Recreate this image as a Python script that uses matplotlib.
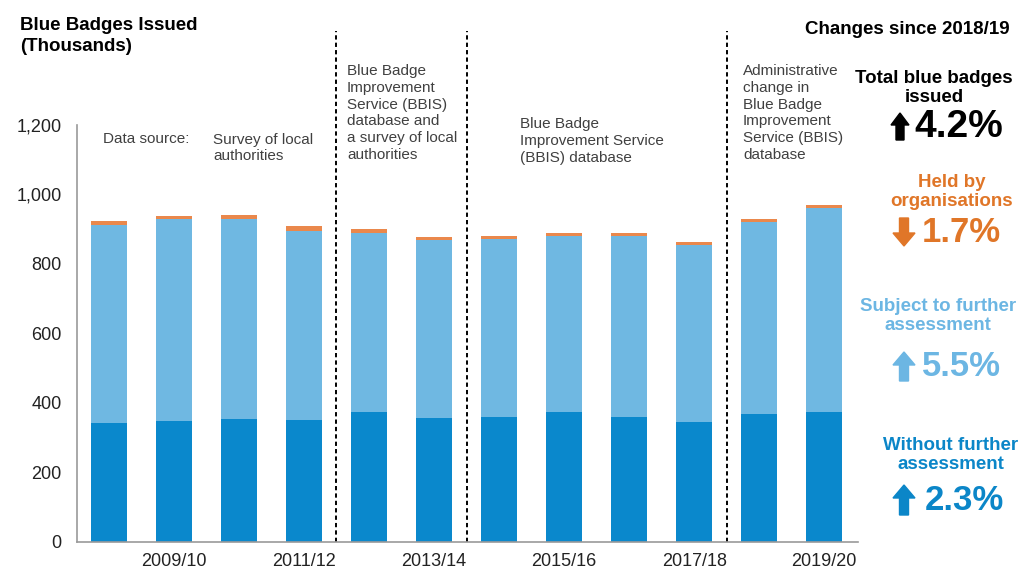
import matplotlib
matplotlib.use("Agg")
import matplotlib.pyplot as plt
import numpy as np
from matplotlib.patches import Polygon

plt.rcParams["font.family"] = ["Liberation Sans", "DejaVu Sans"]

# --- data (thousands of badges issued) ---
years = ["2008/09", "2009/10", "2010/11", "2011/12", "2012/13", "2013/14",
         "2014/15", "2015/16", "2016/17", "2017/18", "2018/19", "2019/20"]
without_further = [341, 347, 352, 350, 374, 357, 360, 373, 358, 344, 366, 374]
subject_further = [572, 581, 577, 546, 516, 511, 512, 506, 521, 509, 555, 586]
held_by_orgs = [9, 11, 11, 13, 10, 10, 9, 10, 10, 10, 9, 9]
breaks = [3.5, 5.5, 9.5]  # data source changes, between bars

DARK = "#0a88cc"
LIGHT = "#6fb8e2"
ORANGE = "#ea884c"
TXT_ORANGE = "#e07628"
TXT_LIGHT = "#6cb6e3"
TXT_DARK = "#0b86c8"
GREY = "#404040"

W, H = 1022, 572
fig = plt.figure(figsize=(W / 100, H / 100), dpi=100)
ax = fig.add_axes([77 / W, 1 - 541.5 / H, (858 - 77) / W, (541.5 - 125) / H])


def px(x, y):
    return x / W, 1 - y / H


x = np.arange(len(years))
w = 0.56
b1 = np.array(without_further)
b2 = b1 + np.array(subject_further)
ax.bar(x, without_further, w, color=DARK)
ax.bar(x, subject_further, w, bottom=b1, color=LIGHT)
ax.bar(x, held_by_orgs, w, bottom=b2, color=ORANGE)

ax.set_xlim(-0.49, 11.52)
ax.set_ylim(0, 1200)
ax.set_yticks(range(0, 1201, 200))
ax.set_yticklabels([f"{v:,}" for v in range(0, 1201, 200)])
ax.set_xticks(x[1::2])
ax.set_xticklabels(years[1::2])
ax.tick_params(axis="both", length=0, labelsize=13, colors="#222222")
ax.tick_params(axis="y", pad=11)
ax.tick_params(axis="x", pad=8)
for s in ["top", "right"]:
    ax.spines[s].set_visible(False)
for s in ["left", "bottom"]:
    ax.spines[s].set_color("#9a9a9a")
    ax.spines[s].set_linewidth(1.2)

for b in breaks:
    ax.plot([b, b], [0, 1470], color="black", lw=1.4,
            linestyle=(0, (2.2, 1.6)), clip_on=False)

# axis title
fig.text(*px(20, 36), "Blue Badges Issued\n(Thousands)", fontsize=13.5,
         fontweight="bold", va="center", ha="left", linespacing=1.3)

# data source notes
note = dict(fontsize=11, color=GREY, va="center", ha="left", linespacing=1.25)
fig.text(*px(103, 139), "Data source:", **note)
fig.text(*px(213, 148), "Survey of local\nauthorities", **note)
fig.text(*px(347, 113), "Blue Badge\nImprovement\nService (BBIS)\ndatabase and\n"
         "a survey of local\nauthorities", **note)
fig.text(*px(520, 141), "Blue Badge\nImprovement Service\n(BBIS) database", **note)
fig.text(*px(743, 113), "Administrative\nchange in\nBlue Badge\nImprovement\n"
         "Service (BBIS)\ndatabase", **note)

# right panel: changes since 2018/19
fig.text(*px(907, 30), "Changes since 2018/19", fontsize=13.5,
         fontweight="bold", ha="center", va="center")

head = dict(fontsize=13.5, fontweight="bold", ha="center", va="center",
            linespacing=1.15)
fig.text(*px(934, 88), "Total blue badges\nissued", color="black", **head)
fig.text(*px(952, 192), "Held by\norganisations", color=TXT_ORANGE, **head)
fig.text(*px(938, 316), "Subject to further\nassessment", color=TXT_LIGHT, **head)
fig.text(*px(951, 455), "Without further\nassessment", color=TXT_DARK, **head)

pct = dict(ha="left", va="center", fontweight="bold")
fig.text(*px(914, 127), "4.2%", fontsize=28, color="black", **pct)
fig.text(*px(922, 233), "1.7%", fontsize=25, color=TXT_ORANGE, **pct)
fig.text(*px(922, 366), "5.5%", fontsize=25, color=TXT_LIGHT, **pct)
fig.text(*px(925, 500), "2.3%", fontsize=25, color=TXT_DARK, **pct)


def block_arrow(cx, tip, base, hw, sw, hl, color):
    # block arrow in pixel space; tip above base -> up arrow
    d = 1 if tip < base else -1
    neck = tip + d * hl
    pts = [(cx, tip), (cx + hw / 2, neck), (cx + sw / 2, neck),
           (cx + sw / 2, base), (cx - sw / 2, base), (cx - sw / 2, neck),
           (cx - hw / 2, neck)]
    fig.patches.append(Polygon([px(a, b) for a, b in pts], closed=True,
                               transform=fig.transFigure, color=color))


block_arrow(900, 113, 140, 18, 8, 12, "black")
block_arrow(904, 246, 218, 22, 9, 13, TXT_ORANGE)
block_arrow(904, 352, 381, 22, 9, 13, TXT_LIGHT)
block_arrow(904, 485, 515, 22, 9, 13, TXT_DARK)

fig.savefig("out.png", dpi=100)
